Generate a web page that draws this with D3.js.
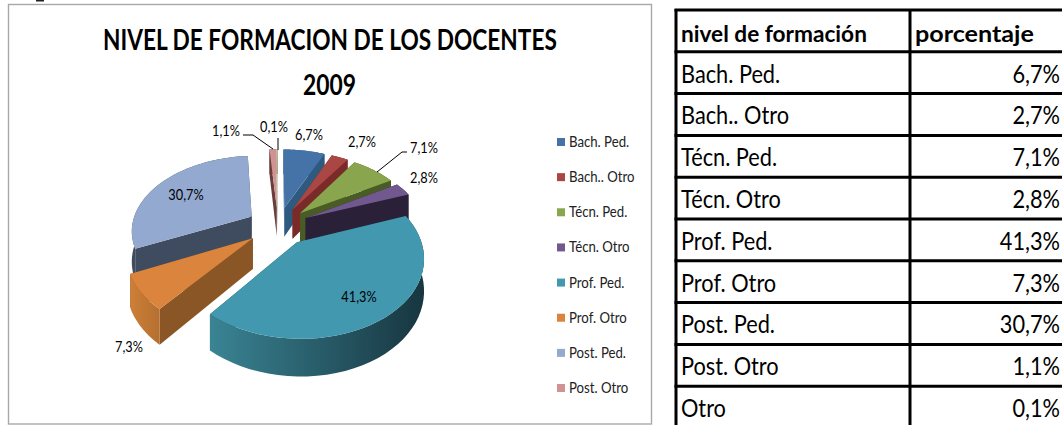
<!DOCTYPE html>
<html><head><meta charset="utf-8">
<script src="https://cdnjs.cloudflare.com/ajax/libs/d3/7.8.5/d3.min.js"></script>
<style>html,body{margin:0;padding:0;background:#fff;overflow:hidden}svg{display:block}text{font-family:Lato,"Open Sans",sans-serif;fill:#000}</style>
</head><body><svg id="c" width="1062" height="425"></svg>
<script>
const categories=["Bach. Ped.","Bach.. Otro","Técn. Ped.","Técn. Otro","Prof. Ped.","Prof. Otro","Post. Ped.","Post. Otro","Otro"];
const values=[6.7,2.7,7.1,2.8,41.3,7.3,30.7,1.1,0.1];
const titleLines=["NIVEL DE FORMACION DE LOS DOCENTES","2009"];
const tableHead=["nivel de formación","porcentaje"];
const topColors=["#4573a7","#aa4643","#89a54e","#71588f","#4198af","#db843d","#93a9cf","#d19392","#b9cd96"];
const wallColors=["#2f5a80","#7a2a28","#4a5c25","#2a2038","#1f4a57","#8a5626","#3f4b5f","#6a3d3d","#5b6b40"];
const rimColors=[["#2f5a80","#2f5a80"],["#7a2a28","#7a2a28"],["#4a5c25","#4a5c25"],["#2a2038","#2a2038"],["#3a8494","#173640"],["#cc7f38","#b06c2e"],["#3f4b5f","#3f4b5f"],["#6a3d3d","#6a3d3d"],["#5b6b40","#5b6b40"]];
// label placement: [centre x, centre y] per slice
const labelPos=[[309,135],[362,142],[424,148],[424,178],[359,297],[129,347],[186,195],[226,131],[274,127]];
const leaders=[[[407,152],[402,152],[377,172]],[[243,135],[253,135],[273,149]],[[278,138],[278,150]]];

const svg=d3.select("#c");
const defs=svg.append("defs");
const fmt=v=>v.toFixed(1).replace(".",",")+"%";
// horizontal squeeze about the text's anchor point, so the box stays where it is drawn
const placed=(sel,x,y,f)=>sel.attr("transform",`translate(${x},${y}) scale(${f},1)`);
const fitW=(sel,x,y,w)=>{const n=sel.node().getComputedTextLength();return placed(sel,x,y,w/n);};

// frame
svg.append("rect").attr("x",8.5).attr("y",4.5).attr("width",643).attr("height",419.5).attr("fill","#fff").attr("stroke","#a8a8a8").attr("stroke-width",1.4);
// sliver of dark ink at the very top edge of the picture
svg.append("rect").attr("x",36).attr("y",0).attr("width",8).attr("height",1.5).attr("fill","#222");

fitW(svg.append("text").attr("font-size",28).attr("font-weight",700).text(titleLines[0]),103,50,454);
fitW(svg.append("text").attr("font-size",28).attr("font-weight",700).text(titleLines[1]),303,95,53);

// pie with a perspective ellipse projection
const cx=278,cy=226,Rx=120,Ry=74,persp=0.17,explode=0.26,depth=30;
const sx=d3.scaleLinear().domain([0,1]).range([cx,cx+Rx]);
const sy=d3.scaleLinear().domain([0,1]).range([cy,cy+Ry]);
const proj=(u,v,z)=>{const w=1/(1-persp*v);return [sx(u*w),sy(v*w)+z*depth*w];};
const arcs=d3.pie().sort(null).value(d=>d).startAngle(0).endAngle(2*Math.PI)(values);
const line=d3.line();
const geom=arcs.map((a,i)=>{
  const mid=(a.startAngle+a.endAngle)/2;
  const u0=explode*Math.sin(mid),v0=-explode*Math.cos(mid);
  const angs=d3.range(0,41).map(k=>a.startAngle+(a.endAngle-a.startAngle)*k/40);
  const pt=(t,z)=>proj(u0+Math.sin(t),v0-Math.cos(t),z);
  const c=z=>proj(u0,v0,z);
  return {i,mid,v0,angs,pt,c,a};
});
const g=svg.append("g");
rimColors.forEach((c,i)=>{
  const lg=defs.append("linearGradient").attr("id","rim"+i).attr("gradientUnits","userSpaceOnUse").attr("x1",210).attr("x2",424).attr("y1",0).attr("y2",0);
  if(i==5){lg.attr("x1",131).attr("x2",165);}
  lg.append("stop").attr("offset",0).attr("stop-color",c[0]);
  lg.append("stop").attr("offset",1).attr("stop-color",c[1]);
});
// painter's order: back slices first
const order=[8,7,0,1,2,3,6,5,4];
order.forEach(i=>{
  const s=geom[i];
  const t0=s.a.startAngle,t1=s.a.endAngle;
  const wall=t=>[s.c(0),s.pt(t,0),s.pt(t,1),s.c(1)];
  const sg=g.append("g");
  sg.append("path").attr("d",line(wall(t0))+"Z").attr("fill",wallColors[i]);
  sg.append("path").attr("d",line(wall(t1))+"Z").attr("fill",wallColors[i]);
  const rim=s.angs.map(t=>s.pt(t,0)).concat(s.angs.slice().reverse().map(t=>s.pt(t,1)));
  sg.append("path").attr("d",line(rim)+"Z").attr("fill",`url(#rim${i})`);
  const top=[s.c(0)].concat(s.angs.map(t=>s.pt(t,0)));
  sg.append("path").attr("d",line(top)+"Z").attr("fill",topColors[i]);
});

// leaders and data labels
svg.append("g").selectAll("path").data(leaders).join("path").attr("d",d=>line(d)).attr("fill","none").attr("stroke","#000").attr("stroke-width",1);
svg.append("g").selectAll("text").data(values).join("text")
  .attr("text-anchor","middle").attr("font-size",15).text(fmt)
  .attr("transform",(d,i)=>`translate(${labelPos[i][0]},${labelPos[i][1]+5}) scale(0.85,1)`);

// legend (eight entries)
const legendCats=categories.slice(0,8);
const ly=d3.scalePoint().domain(legendCats).range([142,388]);
const leg=svg.append("g").selectAll("g").data(legendCats).join("g").attr("transform",d=>`translate(557,${ly(d)})`);
leg.append("rect").attr("x",0).attr("y",-4).attr("width",8).attr("height",8).attr("fill",(d,i)=>topColors[i]);
leg.append("text").attr("font-size",15).style("fill","#222").text(d=>d).attr("transform","translate(12,5) scale(0.88,1)");

// table
const rows=["__h"].concat(categories);
const ty=d3.scaleBand().domain(rows).range([10,428]);
const colL=676,colM=910,colR=1062,valRight=1060;
const tg=svg.append("g");
rows.forEach(r=>{
  const bottom=ty(r)+ty.bandwidth();
  if(r==="__h"){
    fitW(tg.append("text").attr("font-size",23).attr("font-weight",700).text(tableHead[0]),681,bottom-10,186);
    fitW(tg.append("text").attr("font-size",23).attr("font-weight",700).text(tableHead[1]),915,bottom-10,119);
  }else{
    const i=categories.indexOf(r);
    placed(tg.append("text").attr("font-size",25).text(r),681,bottom-11,0.87);
    placed(tg.append("text").attr("font-size",25).attr("text-anchor","end").text(fmt(values[i])),valRight,bottom-11,0.87);
  }
});
tg.selectAll("line.h").data(rows).join("line").attr("x1",colL-1.5).attr("x2",colR).attr("y1",d=>ty(d)).attr("y2",d=>ty(d)).attr("stroke","#000").attr("stroke-width",3);
[colL,colM].forEach(x=>tg.append("line").attr("x1",x).attr("x2",x).attr("y1",9).attr("y2",425).attr("stroke","#000").attr("stroke-width",3));
</script></body></html>
